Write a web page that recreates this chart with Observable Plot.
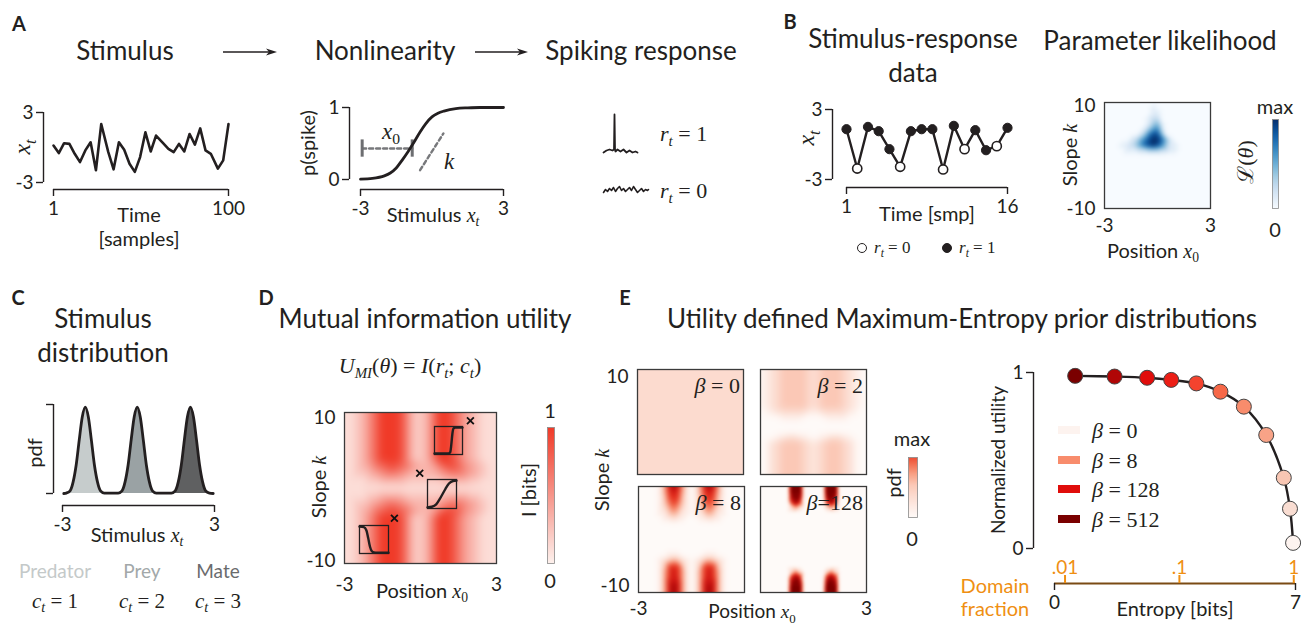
<!DOCTYPE html>
<html>
<head>
<meta charset="utf-8">
<script src="https://cdn.jsdelivr.net/npm/d3@7"></script>
<script src="https://cdn.jsdelivr.net/npm/@observablehq/plot@0.6"></script>
<style>
html,body{margin:0;padding:0;background:#fff;}
#fig{position:relative;width:1309px;height:627px;overflow:hidden;background:#fff;font-family:Lato,"Open Sans",sans-serif;color:#231f20;}
#fig svg{position:absolute;overflow:visible;max-width:none;}
.lb{position:absolute;white-space:nowrap;line-height:1;}
.m{font-family:"Liberation Serif","DejaVu Serif",serif;}
.m i,i.m{font-style:italic;}
sub{font-size:68%;vertical-align:-0.35em;line-height:0;}
.sw{position:absolute;width:22px;height:8px;}
.cc{position:absolute;width:8px;height:8px;border:1.5px solid #231f20;border-radius:50%;}
</style>
</head>
<body>
<div id="fig"></div>
<script>
// ================= DATA =================
// A: stimulus time series
const stimTime = [1,4,7,10,13,16,19,22,25,28,32,35,38,41,44,47,50,53,56,59,63,66,69,72,75,78,81,84,87,90,94,97,100];
const stimValue = [0.17,-0.48,0.37,0.31,-0.54,-1.25,-0.25,0.45,-1.95,2.01,-0.40,-1.87,0.45,-0.20,-1.39,-2.09,-0.82,1.30,-0.34,1.02,0.37,-0.11,-0.40,0.31,-0.34,1.16,0.25,1.64,-0.25,-0.54,-1.81,-1.10,2.01];
// A: nonlinearity p(spike)
const sigX = [-3,-2.5,-2,-1.75,-1.5,-1.25,-1,-0.75,-0.5,-0.25,0,0.25,0.5,1,1.5,2,3];
const sigP = [0.005,0.015,0.05,0.09,0.16,0.27,0.39,0.52,0.66,0.78,0.87,0.92,0.95,0.985,0.995,1,1];
const x0GuideX = [-2.93,-0.83], x0GuideP = [0.43,0.43];
const capP = [0.31,0.55];
const kGuideX = [-0.5,0.48], kGuideP = [0.13,0.64];
// A: spiking traces
const spikeT = [3,6,9,12,13.5,14,14.5,15,17,20,23,26,29,32,35,37];
const spikeV = [48,50,51,50,51,86,51,49,51,49,51,48,50,48,49,48];
const quietT = [3,5,7,9,11,13,15,17,19,21,23,25,27,29,31,33,35,37,39,41,43,45,47,48];
const quietV = [8,11,9,12,10,13,9,12,14,10,12,9,11,13,10,14,11,8,10,12,9,11,10,11];
// B: stimulus-response data
const dataT = [1,2,3,4,5,6,7,8,9,10,11,12,13,14,15,16];
const dataX = [1.31,-2.06,1.51,1.14,-0.40,-1.91,1.14,1.31,1.31,-2.14,1.60,-0.40,1.23,-0.49,-0.14,1.43];
const dataR = [1,0,1,1,1,0,1,1,1,0,1,0,1,1,0,1];
// heat-map grid (columns: position x0, rows: slope k) — digit = level 0..9
const gridX0 = [-3,-2.75,-2.5,-2.25,-2,-1.75,-1.5,-1.25,-1,-0.75,-0.5,-0.25,0,0.25,0.5,0.75,1,1.25,1.5,1.75,2,2.25,2.5,2.75,3];
const gridK = [10,9,8,7,6,5,4,3,2,1,0,-1,-2,-3,-4,-5,-6,-7,-8,-9,-10];
const likRows = [
"0000000000000000000000000","0000000000010000000000000","0000000000011000000000000","0000000000122000000000000",
"0000000000134100000000000","0000000001356200000000000","0000000013688400000000000","0000001246899741000000000",
"0000112357898631100000000","0000011122333221100000000","0000000000000000000000000","0000000000000000000000000",
"0000000000000000000000000","0000000000000000000000000","0000000000000000000000000","0000000000000000000000000",
"0000000000000000000000000","0000000000000000000000000","0000000000000000000000000","0000000000000000000000000",
"0000000000000000000000000"];
const miRows = [
"1123579998522369986432111","1123579998522369986432111","1123579998522369986432111","1123579998522369986432111",
"1123579998522369986432111","1123579998522369986432111","1123579998522369986432111","1123467887643346887543211",
"1122345665433334566543211","1111223333222222333322111","1111111111111111111111111","1111223333222222333322111",
"1122345665433334566543211","1123467887643346887543211","1123579998522369986432111","1123579998522369986432111",
"1123579998522369986432111","1123579998522369986432111","1123579998522369986432111","1123579998522369986432111",
"1123579998522369986432111"];
const beta0Rows = Array.from({length: 21}, () => "2222222222222222222222222");
const beta2Rows = [
"0112233333322233333221100","0112233333322233333221100","0112233333322233333221100","0112233333322233333221100",
"0112233333322233333221100","0112233333322233333221100","0112233333322233333221100","0112233333322233333221100",
"0011222222211122222211000","0000011111000001111100000","0000000000000000000000000","0000000000000000000000000",
"0000000000000000000000000","0000112221100011222110000","0012233333221223333221000","0012233333221223333221000",
"0012233333221223333221000","0012233333221223333221000","0012233333221223333221000","0012233333221223333221000",
"0012233333221223333221000"];
const beta8Rows = [
"0000014787410147874100000","0000014676410146764100000","0000013666310136663100000","0000013565310135653100000",
"0000012454210124542100000","0000011343110113431100000","0000001121100011211000000","0000000000000000000000000",
"0000000000000000000000000","0000000000000000000000000","0000000000000000000000000","0000000000000000000000000",
"0000000000000000000000000","0000000111000001110000000","0000012343210123432100000","0000013666310136663100000",
"0000014676410146764100000","0000014676410146764100000","0000014777410147774100000","0000014787410147874100000",
"0000014787410147874100000"];
const beta128Rows = [
"0000000999000009990000000","0000000999000009990000000","0000000898000008980000000","0000000686000006860000000",
"0000000242000002420000000","0000000000000000000000000","0000000000000000000000000","0000000000000000000000000",
"0000000000000000000000000","0000000000000000000000000","0000000000000000000000000","0000000000000000000000000",
"0000000000000000000000000","0000000000000000000000000","0000000000000000000000000","0000000000000000000000000",
"0000000242000002420000000","0000000686000006860000000","0000000898000008980000000","0000000999000009990000000",
"0000000999000009990000000"];
// D: inset example nonlinearities and their parameters (x)
const inset1U = [0,0.5,0.56,0.6,0.64,0.68,0.74,1], inset1V = [0.04,0.04,0.08,0.35,0.75,0.93,0.96,0.96];
const inset2U = [0,0.15,0.3,0.42,0.52,0.62,0.74,0.88,1], inset2V = [0.04,0.06,0.14,0.32,0.5,0.68,0.86,0.95,0.96];
const inset3U = [0,0.15,0.24,0.3,0.36,0.42,0.5,0.62,1], inset3V = [0.96,0.94,0.82,0.55,0.25,0.09,0.04,0.03,0.03];
const markerX0 = [1.97,-0.03,-1.03], markerK = [8.9,1.96,-4.0];
// C: stimulus distribution
const bumpCenters = [-2.1,-0.05,2.05];
const bumpOffsets = [-0.75,-0.6,-0.48,-0.36,-0.24,-0.12,0,0.12,0.24,0.36,0.48,0.6,0.75];
const bumpHeights = [0.005,0.03,0.13,0.32,0.6,0.86,0.97,0.86,0.6,0.32,0.13,0.03,0.005];
const classNames = ["Predator","Prey","Mate"];
// E: utility vs entropy
const betas = [512,256,128,64,32,16,8,4,2,1,0];
const entropyBits = [0.60,1.745,2.69,3.39,4.12,4.82,5.50,6.15,6.66,6.84,6.93];
const normUtility = [0.981,0.977,0.970,0.958,0.938,0.891,0.806,0.645,0.402,0.226,0.032];
const legendBetas = [0,8,128,512];
const fracTicks = [0.01,0.1,1];
const fracLabels = [".01",".1","1"];
const maxEntropy = 6.95;

// ================= STYLE =================
const INK = "#231f20";
const ORANGE = "#ef8f12";
const classFill = ["#c6cccc","#9aa2a4","#5f6061"];
const classText = ["#c4c9c9","#a2a8a9","#6a6b6d"];
const betaColors = ["#7a0000","#b00606","#e00d0b","#ec1e16","#f4432e","#f66848","#f88c6c","#f8a387","#f8c6b3","#f9ddd2","#fdf3ef"];
const miColor = {type:"linear", domain:[0,9], range:["#fdf1ed","#f03a28"]};
const eColor = {type:"linear", domain:[0,1,2,3,4,5,6,7,8,9],
  range:["#fefaf8","#fdebe4","#fcdbcf","#fbc8b6","#f8a084","#f26a4c","#e6321f","#cc1412","#a30707","#7d0000"]};
const fmt = d => String(d);

// ================= TABLES =================
const stimData = stimTime.map((t,i) => ({t, v: stimValue[i]}));
const sigData = sigX.map((x,i) => ({x, p: sigP[i]}));
const spikeData = spikeT.map((t,i) => ({t, v: spikeV[i]}));
const quietData = quietT.map((t,i) => ({t, v: quietV[i]}));
const bData = dataT.map((t,i) => ({t, x: dataX[i], r: dataR[i]}));
function grid(rows) {
  const out = [];
  rows.forEach((row, j) => { for (let i = 0; i < gridX0.length; i++) out.push({x0: gridX0[i], k: gridK[j], v: +row[i]}); });
  return out;
}
const bumps = bumpCenters.map(c => bumpOffsets.map((o,i) => ({x: c + o, y: bumpHeights[i]})));
const outline = [{x:-2.95,y:0}, ...bumps.flat(), {x:2.95,y:0}];
const utilData = betas.map((b,i) => ({beta: b, h: entropyBits[i], u: normUtility[i]}));

// ================= HELPERS =================
const fig = document.getElementById("fig");
function mk(f, m, opts) {
  const svg = Plot.plot({
    width: f.w + m[1] + m[3], height: f.h + m[0] + m[2],
    marginTop: m[0], marginRight: m[1], marginBottom: m[2], marginLeft: m[3],
    style: {fontFamily: "Lato, sans-serif", fontSize: "19px", color: INK, background: "none", overflow: "visible"},
    ...opts
  });
  svg.style.left = (f.x - m[3]) + "px";
  svg.style.top = (f.y - m[0]) + "px";
  fig.appendChild(svg);
  return svg;
}
function label(html, x, y, o = {}) {
  const d = document.createElement("div");
  d.className = "lb" + (o.math ? " m" : "");
  d.innerHTML = html;
  d.style.left = x + "px"; d.style.top = y + "px";
  d.style.fontSize = (o.size || 20) + "px";
  if (o.color) d.style.color = o.color;
  if (o.weight) d.style.fontWeight = o.weight;
  const ax = o.anchor === "start" ? "0" : o.anchor === "end" ? "-100%" : "-50%";
  d.style.transform = `translate(${ax},-50%)` + (o.rotate ? ` rotate(${o.rotate}deg)` : "");
  fig.appendChild(d);
}
function arrow(x1, x2, y) {
  const w = x2 - x1;
  fig.insertAdjacentHTML("beforeend",
    `<svg width="${w+2}" height="10" style="left:${x1}px;top:${y-5}px"><line x1="0" y1="5" x2="${w-6}" y2="5" stroke="${INK}" stroke-width="1.3"/><path d="M${w-11},1.5 L${w},5 L${w-11},8.5 L${w-8},5Z" fill="${INK}"/></svg>`);
}
const M = s => `<span class="m">${s}</span>`;
const xt = M("<i>x</i><sub><i>t</i></sub>");
const x0 = M("<i>x</i><sub>0</sub>");
const kk = M("<i>k</i>");
const bracketAxes = (xt, yt, xf = fmt, yf = fmt) => [
  Plot.axisY({ticks: yt, tickSize: 7, tickPadding: 3, tickFormat: yf, label: null, strokeWidth: 1.4}),
  Plot.axisX({ticks: xt, tickSize: 7, tickPadding: 5, tickFormat: xf, label: null, strokeWidth: 1.4})
];
function heat(f, rows, color, axes, blur, extra = []) {
  return mk(f, [12,12,40,48], {
    x: {domain: [-3,3], ...(axes.x ? {} : {axis: null})},
    y: {domain: [-10,10], ...(axes.y ? {} : {axis: null})},
    color,
    marks: [
      Plot.raster(grid(rows), {x: "x0", y: "k", fill: "v", interpolate: "barycentric", blur, x1: -3, x2: 3, y1: -10, y2: 10}),
      Plot.frame({stroke: "#3a3a3a", strokeWidth: 1.3}),
      ...extra,
      ...(axes.y ? axes.y.map(([t, dy]) => Plot.axisY({ticks: [t], tickSize: 0, tickPadding: 9, dy, tickFormat: fmt, label: null})) : []),
      ...(axes.x ? [Plot.axisX({ticks: axes.x, tickSize: 0, tickPadding: axes.xp || 10, tickFormat: fmt, label: null})] : [])
    ]
  });
}
function colorbar(f, color, top) {
  return mk(f, [0,0,0,0], {
    x: {domain: [0,1], axis: null}, y: {domain: [0,1], axis: null}, color,
    marks: [
      Plot.raster({x1: 0, x2: 1, y1: 0, y2: 1, fill: (x, y) => y * top}),
      Plot.frame({stroke: "#8a8a8a", strokeWidth: 0.8})
    ]
  });
}

// ================= PANEL A =================
label("A", 19, 23, {size: 20, weight: 700});
label("Stimulus", 125, 50, {size: 26});
label("Nonlinearity", 385, 50, {size: 26});
label("Spiking response", 641, 50, {size: 26});
arrow(223, 277, 52);
arrow(475, 528, 52);

mk({x:43, y:112, w:185, h:77}, [10,10,40,40], {
  x: {domain: [1,100], insetLeft: 10}, y: {domain: [-3,3], insetBottom: 7},
  marks: [
    Plot.ruleX([1], {y1: -3, y2: 3, dx: -10, stroke: INK, strokeWidth: 1.4}),
    Plot.ruleY([-3], {x1: 1, x2: 100, dy: 7, stroke: INK, strokeWidth: 1.4}),
    ...bracketAxes([1,100], [-3,3]),
    Plot.line(stimData, {x: "t", y: "v", stroke: INK, strokeWidth: 2.6})
  ]
});
label(xt, 22, 147, {rotate: -90, size: 24, math: true});
label("Time", 139, 214);
label("[samples]", 139, 238);

mk({x:349, y:107, w:154, h:82}, [10,10,40,40], {
  x: {domain: [-3,3], insetLeft: 11}, y: {domain: [0,1], insetBottom: 10},
  marks: [
    Plot.ruleX([-3], {y1: 0, y2: 1, dx: -11, stroke: INK, strokeWidth: 1.4}),
    Plot.ruleY([0], {x1: -3, x2: 3, dy: 10, stroke: INK, strokeWidth: 1.4}),
    ...bracketAxes([-3,3], [0,1]),
    Plot.line(x0GuideX, {x: x0GuideX, y: x0GuideP, stroke: "#77787b", strokeWidth: 2.4, strokeDasharray: "4,3"}),
    Plot.ruleX(x0GuideX, {y1: capP[0], y2: capP[1], stroke: "#6d6e71", strokeWidth: 3}),
    Plot.line(kGuideX, {x: kGuideX, y: kGuideP, stroke: "#77787b", strokeWidth: 2.4, strokeDasharray: "4,3"}),
    Plot.line(sigData, {x: "x", y: "p", curve: "monotone-x", stroke: INK, strokeWidth: 2.8})
  ]
});
label("p(spike)", 307, 143, {rotate: -90});
label(`Stimulus ${xt}`, 433, 214);
label(x0, 391, 131, {size: 23});
label(kk, 449, 161, {size: 23});

mk({x:600, y:110, w:50, h:90}, [0,0,0,0], {
  x: {domain: [0,50], axis: null}, y: {domain: [0,90], axis: null},
  marks: [
    Plot.line(spikeData, {x: "t", y: "v", stroke: INK, strokeWidth: 1.8}),
    Plot.line(quietData, {x: "t", y: "v", stroke: INK, strokeWidth: 1.6})
  ]
});
label(M("<i>r</i><sub><i>t</i></sub> = 1"), 660, 133, {anchor: "start", size: 22});
label(M("<i>r</i><sub><i>t</i></sub> = 0"), 660, 190, {anchor: "start", size: 22});

// ================= PANEL B =================
label("B", 790, 21, {size: 20, weight: 700});
label("Stimulus-response", 913, 38, {size: 26});
label("data", 913, 72, {size: 26});
label("Parameter likelihood", 1160, 40, {size: 26});

mk({x:832, y:109, w:175, h:78}, [10,10,40,40], {
  x: {domain: [1,16], insetLeft: 14}, y: {domain: [-3,3], insetBottom: 8},
  marks: [
    Plot.ruleX([1], {y1: -3, y2: 3, dx: -14, stroke: INK, strokeWidth: 1.4}),
    Plot.ruleY([-3], {x1: 1, x2: 16, dy: 8, stroke: INK, strokeWidth: 1.4}),
    ...bracketAxes([1,16], [-3,3]),
    Plot.line(bData, {x: "t", y: "x", stroke: INK, strokeWidth: 2.4}),
    Plot.dot(bData.filter(d => d.r === 0), {x: "t", y: "x", r: 4.6, fill: "white", stroke: INK, strokeWidth: 1.6}),
    Plot.dot(bData.filter(d => d.r === 1), {x: "t", y: "x", r: 4.6, fill: INK, stroke: INK, strokeWidth: 1})
  ]
});
label(xt, 806, 138, {rotate: -90, size: 24, math: true});
label("Time [smp]", 927, 213);
fig.insertAdjacentHTML("beforeend", `<div class="cc" style="left:857px;top:243px;background:#fff"></div><div class="cc" style="left:942px;top:243px;background:${INK}"></div>`);
label(M("<i>r</i><sub><i>t</i></sub> = 0"), 874, 247, {anchor: "start", size: 17});
label(M("<i>r</i><sub><i>t</i></sub> = 1"), 959, 247, {anchor: "start", size: 17});

heat({x:1104, y:102, w:106, h:106}, likRows, {scheme: "blues", domain: [0,9]}, {y: [[10,3],[-10,0]], x: [-3,3], xp: 10}, 1.5);
colorbar({x:1272, y:119, w:6, h:89}, {scheme: "blues", domain: [0,1]}, 1);
label(`Slope ${kk}`, 1069, 155, {rotate: -90});
label(`Position ${x0}`, 1153, 250);
label("max", 1275, 106);
label("0", 1275, 229);
label(M("ℒ(<i>θ</i>)"), 1245, 162, {rotate: -90, size: 22});

// ================= PANEL C =================
label("C", 18, 297, {size: 20, weight: 700});
label("Stimulus", 103, 318, {size: 26});
label("distribution", 103, 352, {size: 26});
mk({x:53, y:404, w:161, h:101}, [10,10,40,40], {
  x: {domain: [-3,3], insetLeft: 9}, y: {domain: [0,1], insetBottom: 12},
  marks: [
    ...bumps.map((b,i) => Plot.areaY(b, {x: "x", y: "y", curve: "monotone-x", fill: classFill[i]})),
    Plot.line(outline, {x: "x", y: "y", curve: "monotone-x", stroke: INK, strokeWidth: 2.8}),
    Plot.ruleX([-3], {y1: 0, y2: 1, dx: -9, stroke: INK, strokeWidth: 1.4}),
    Plot.ruleY([0], {x1: -3, x2: 3, dy: 12, stroke: INK, strokeWidth: 1.4}),
    ...bracketAxes([-3,3], [0,1], fmt, () => "")
  ]
});
label("pdf", 34, 453, {rotate: -90});
label(`Stimulus ${xt}`, 137, 534);
const classX = [55, 142, 218];
classNames.forEach((n,i) => {
  label(n, classX[i], 570, {size: 19, color: classText[i]});
  label(M(`<i>c</i><sub><i>t</i></sub> = ${i+1}`), classX[i], 600, {size: 21});
});

// ================= PANEL D =================
label("D", 266, 297, {size: 20, weight: 700});
label("Mutual information utility", 425, 318, {size: 26});
label(M("<i>U</i><sub><i>MI</i></sub>(<i>θ</i>) = <i>I</i>(<i>r</i><sub><i>t</i></sub>; <i>c</i><sub><i>t</i></sub>)"), 410, 365, {size: 22});
heat({x:344, y:412, w:152, h:151}, miRows, miColor, {y: [[10,5],[-10,-3]], x: [-3,3], xp: 14}, 3, [
  Plot.dot(markerX0, {x: markerX0, y: markerK, symbol: "times", r: 3.2, stroke: "#111", strokeWidth: 1.8})
]);
[[{x:434,y:426,w:28,h:28}, inset1U, inset1V], [{x:427,y:479,w:29,h:29}, inset2U, inset2V], [{x:359,y:525,w:29,h:28}, inset3U, inset3V]]
  .forEach(([f, u, v]) => mk(f, [0,0,0,0], {
    x: {domain: [0,1], axis: null}, y: {domain: [0,1], axis: null},
    marks: [
      Plot.frame({stroke: INK, strokeWidth: 1.3}),
      Plot.line(u, {x: u, y: v, curve: "monotone-x", stroke: INK, strokeWidth: 2.4})
    ]
  }));
colorbar({x:547, y:427, w:7, h:136}, miColor, 9);
label(`Slope ${kk}`, 318, 487, {rotate: -90});
label(`Position ${x0}`, 422, 590);
label("I [bits]", 528, 490, {rotate: -90});
label("1", 550, 410);
label("0", 550, 580);

// ================= PANEL E =================
label("E", 625, 297, {size: 20, weight: 700});
label("Utility defined Maximum-Entropy prior distributions", 962, 318, {size: 26});
heat({x:637, y:369, w:106, h:105}, beta0Rows, eColor, {y: [[10,7]]}, 2);
heat({x:760, y:369, w:106, h:105}, beta2Rows, eColor, {}, 3);
heat({x:638, y:486, w:106, h:106}, beta8Rows, eColor, {y: [[-10,-7]], x: [-3], xp: 9}, 2);
heat({x:760, y:486, w:106, h:106}, beta128Rows, eColor, {x: [3], xp: 9}, 1);
label(M("<i>β</i> = 0"), 740, 385, {anchor: "end", size: 22});
label(M("<i>β</i> = 2"), 863, 385, {anchor: "end", size: 22});
label(M("<i>β</i> = 8"), 741, 502, {anchor: "end", size: 22});
label(M("<i>β</i>=128"), 863, 502, {anchor: "end", size: 22});
colorbar({x:908, y:457, w:9, h:60}, eColor, 5.5);
label(`Slope ${kk}`, 601, 480, {rotate: -90});
label(`Position ${x0}`, 752, 611, {size: 19});
label("pdf", 893, 483, {rotate: -90});
label("max", 912, 438);
label("0", 912, 538);

mk({x:1033, y:372, w:262, h:211}, [12,14,40,40], {
  x: {domain: [0,7], insetLeft: 21}, y: {domain: [0,1], insetBottom: 35},
  color: {type: "ordinal", domain: betas, range: betaColors},
  marks: [
    Plot.ruleX([0], {y1: 0, y2: 1, dx: -21, stroke: INK, strokeWidth: 1.4}),
    Plot.ruleY([0], {x1: 0, x2: 7, dy: 35, stroke: "#7a4b14", strokeWidth: 2}),
    ...bracketAxes([0,7], [0,1]),
    Plot.line(utilData, {x: "h", y: "u", curve: "catmull-rom", stroke: INK, strokeWidth: 2.4}),
    Plot.dot(utilData, {x: "h", y: "u", r: 7.5, fill: "beta", stroke: "#444", strokeWidth: 1})
  ]
});
mk({x:1054, y:575, w:241, h:8}, [30,0,0,0], {
  x: {type: "log", domain: [2 ** (0 - maxEntropy), 2 ** (7 - maxEntropy)]},
  marks: [
    Plot.ruleX(fracTicks, {stroke: ORANGE, strokeWidth: 2}),
    Plot.axisX({anchor: "top", ticks: fracTicks, tickSize: 0, tickPadding: 2, tickFormat: d => fracLabels[fracTicks.indexOf(d)], color: ORANGE, label: null})
  ]
});
label("Normalized utility", 997, 460, {rotate: -90, size: 19});
label("Domain", 995, 585, {color: ORANGE, size: 20});
label("fraction", 995, 608, {color: ORANGE, size: 20});
label("Entropy [bits]", 1175, 608);
const betaColor = b => betaColors[betas.indexOf(b)];
const legendY = [430, 460, 489, 519];
legendBetas.forEach((b,i) => {
  fig.insertAdjacentHTML("beforeend", `<div class="sw" style="left:1058px;top:${legendY[i]-4}px;background:${betaColor(b)}"></div>`);
  label(M(`<i>β</i> = ${b}`), 1092, legendY[i], {anchor: "start", size: 22});
});
</script>
</body>
</html>
